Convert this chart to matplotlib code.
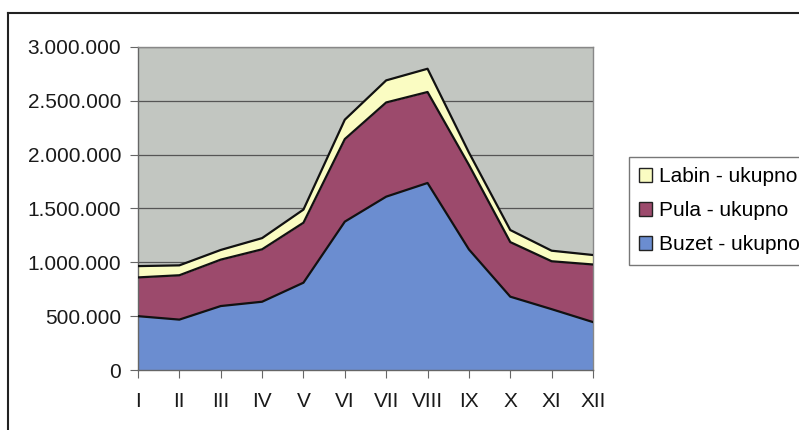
import matplotlib
matplotlib.use("Agg")
import matplotlib.pyplot as plt
from matplotlib.lines import Line2D
from matplotlib.patches import Patch
import numpy as np

months = ["I", "II", "III", "IV", "V", "VI", "VII", "VIII", "IX", "X", "XI", "XII"]
buzet = [500000, 468000, 594000, 634000, 811000, 1378000, 1610000, 1737000, 1120000, 681000, 565000, 445000]
pula = [360000, 412000, 431000, 487000, 557000, 767000, 875000, 845000, 785000, 507000, 445000, 535000]
labin = [105000, 92000, 90000, 104000, 122000, 180000, 205000, 216000, 115000, 112000, 98000, 88000]
series_names = ["Buzet - ukupno", "Pula - ukupno", "Labin - ukupno"]
yticks = [0, 500000, 1000000, 1500000, 2000000, 2500000, 3000000]

colors = ["#6b8dd0", "#9c4a6c", "#fafcc2"]

plt.rcParams['font.family'] = ['Liberation Sans', 'DejaVu Sans']

fig = plt.figure(figsize=(7.99, 4.30), dpi=100)
ax = fig.add_axes([138/799, 1-370/430, (593-138)/799, (370-47)/430])
ax.set_facecolor("#c2c6c1")

x = np.arange(len(months))
data = [buzet, pula, labin]
cum = np.zeros(len(months))
tops = []
for vals, c in zip(data, colors):
    top = cum + np.array(vals)
    ax.fill_between(x, cum, top, color=c, linewidth=0, zorder=2)
    tops.append(top)
    cum = top
for top in tops:
    ax.plot(x, top, color="#111111", linewidth=1.6, zorder=3)

ax.set_xlim(0, len(months) - 1)
ax.set_ylim(0, 3000000)
ax.set_yticks(yticks)
ax.set_yticklabels([f"{v:,}".replace(",", ".") for v in yticks], fontsize=15, color="#1a1a1a")
ax.set_xticks(x)
ax.set_xticklabels(months, fontsize=15, color="#1a1a1a")
ax.tick_params(axis='y', direction='out', length=6, width=0.8, color="#666666", pad=6)
ax.tick_params(axis='x', direction='out', length=6, width=0.8, color="#666666", pad=10)
ax.yaxis.grid(True, color="#555555", linewidth=0.9, zorder=1)
ax.set_axisbelow(True)
for side in ["top", "right"]:
    ax.spines[side].set_color("#888888")
    ax.spines[side].set_linewidth(1.0)
for side in ["left", "bottom"]:
    ax.spines[side].set_color("#666666")
    ax.spines[side].set_linewidth(1.0)

handles = [Patch(facecolor=colors[i], edgecolor="#222222", linewidth=1.0) for i in [2, 1, 0]]
labels = [series_names[i] for i in [2, 1, 0]]
leg = fig.legend(handles, labels, loc="upper left", bbox_to_anchor=(629/799, 1-157/430),
                 fontsize=15, frameon=True, fancybox=False, handlelength=0.6, handleheight=0.6,
                 handletextpad=0.35, labelspacing=0.72, borderpad=0.5, borderaxespad=0)
leg.get_frame().set_edgecolor("#555555")
leg.get_frame().set_linewidth(1.0)

# outer chart border
fig.add_artist(Line2D([8/799, 1.0], [1-13/430, 1-13/430], transform=fig.transFigure, color="#222222", linewidth=1.5))
fig.add_artist(Line2D([8/799, 8/799], [0, 1-13/430], transform=fig.transFigure, color="#222222", linewidth=1.5))

fig.savefig("out.png", dpi=100)
